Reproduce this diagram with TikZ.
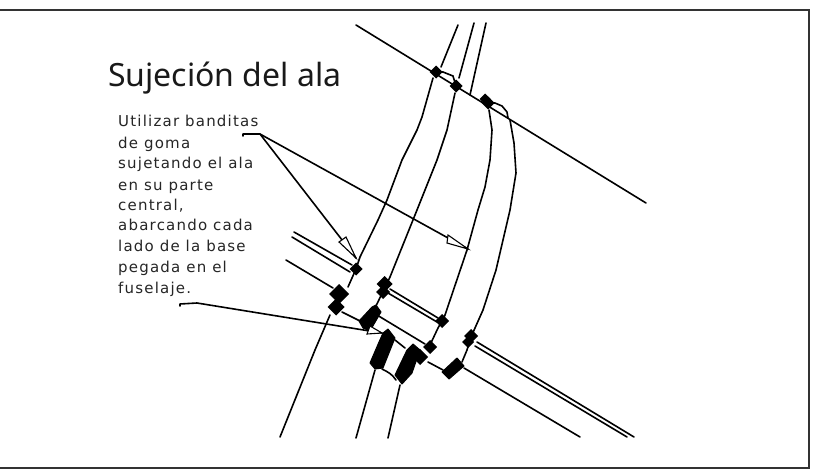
\documentclass[tikz,border=0pt]{standalone}
\usepackage{fontspec}
\setmainfont{DejaVu Sans}
\newfontfamily\titlefont{Noto Sans}
\newfontfamily\notefont[LetterSpace=8]{DejaVu Sans}
\tikzset{
  wire/.style={line width=1.6pt,line join=round,line cap=round},
  blob/.style={fill=black,draw=black,line width=1pt,line join=round},
  tiptri/.style={line width=1.1pt,fill=white,line join=miter},
  notetext/.style={anchor=base west,inner sep=0pt,font=\fontsize{15}{16}\notefont,text=black!85}
}
\newcommand{\dia}[3][6.5]{\fill[black] (#2,#3) +(-#1,0) -- +(0,-#1) -- +(#1,0) -- +(0,#1) -- cycle;}
\begin{document}
\begin{tikzpicture}[x=1pt,y=-1pt]
\useasboundingbox (0,0) rectangle (836,471);
\fill[white] (0,0) rectangle (836,471);
\draw[line width=2pt,black!80] (-3,10) -- (808.5,10) -- (808.5,468) -- (-3,468);
% title
\node[anchor=base west,inner sep=0pt,font=\fontsize{32}{36}\titlefont,text=black!90] (title) at (108,86) {Sujeción del ala};
% note
\node[notetext] (n1) at (118,126) {Utilizar banditas};
\node[notetext] (n2) at (118,148) {de goma};
\node[notetext] (n3) at (118,168) {sujetando el ala};
\node[notetext] (n4) at (118,190) {en su parte};
\node[notetext] (n5) at (118,210) {central,};
\node[notetext] (n6) at (118,230) {abarcando cada};
\node[notetext] (n7) at (118,251) {lado de la base};
\node[notetext] (n8) at (118,272) {pegada en el};
\node[notetext] (n9) at (118,293) {fuselaje.};
% top diagonal
\draw[wire] (356,25) -- (646,203);
% upper strands
\draw[wire] (458,25) -- (441,67);
\draw[wire] (474,23) -- (459,78);
\draw[wire] (486,23) -- (470,95);
% strand 1
\draw[wire] (433,78) -- (422,117) -- (417,130) -- (402,160) -- (387,200) -- (378,220) -- (360,257) -- (356,269) -- (348,287);
\draw[wire] (330,315) -- (315,350) -- (280,437);
% strand 2
\draw[wire] (455,93) -- (447,130) -- (437,160) -- (417,210) -- (390,277) -- (375,308);
% connecting tops
\draw[wire] (436,72) -- (443,72) -- (453,76) -- (456,86);
\draw[wire] (488,103) -- (495,103) -- (502,106) -- (507,112) -- (508,118);
% strands 3, 4
\draw[wire] (489,110) -- (492,130) -- (490,160) -- (485,187) -- (478,210) -- (467,250) -- (445,315) -- (442,321) -- (438,328) -- (430,345);
\draw[wire] (510,120) -- (514,143) -- (516,173) -- (510,210) -- (496,270) -- (483,310) -- (471,337) -- (467,350) -- (462,362);
% left stubs
\draw[wire] (294,232) -- (352,265);
\draw[wire] (292,237) -- (350,272);
\draw[wire] (286,260) -- (333,288);
% mid double
\draw[wire] (390,289) -- (438,318);
\draw[wire] (388,293) -- (437,322);
\draw[wire] (377,315) -- (425,344);
% lower connections
\draw[wire] (342,312) -- (362,322);
\draw[wire] (395,340) -- (405,348);
\draw[wire] (382,369) .. controls (388,372) and (392,374) .. (396,380);
\draw[wire] (428,362) -- (443,370);
% bottom lines
\draw[wire] (375,370) -- (356,438);
\draw[wire] (400,385) -- (388,438);
\draw[wire] (464,368) -- (580,437);
% right double
\draw[wire] (477,342) -- (634,437);
\draw[wire] (475,346) -- (627,437);
% clamps
\dia{436}{72}
\dia{456}{86}
\dia{488}{103}
\dia[5.5]{485}{99}
\dia{356}{269}
\dia[10]{339}{294}
\dia[8.5]{336}{307}
\dia[8]{384.5}{284}
\dia[7]{383}{292}
\dia[7]{442}{321}
\dia[7]{471}{336}
\dia[6]{468}{342}
\dia[7]{430}{347}
\dia[8]{420}{357}
\fill[blob] (372,307) -- (376,305) -- (381,312) -- (370,331) -- (363,328) -- (359,321) -- cycle;
\fill[blob] (383,333) -- (388,329) -- (395,338) -- (383,368) -- (375,369) -- (370,363) -- (379,342) -- cycle;
\fill[blob] (407,350) -- (413,344) -- (420,350) -- (412,373) -- (402,384) -- (395,375) -- cycle;
\fill[blob] (457,358) -- (464,366) -- (449,379) -- (442,372) -- cycle;
% pointers
\draw[wire] (243,136) -- (243,134) -- (260,134) -- (356,258);
\draw[wire] (260,134) -- (468,249);
\draw[wire] (180,306) -- (180,304) -- (197,303) -- (382,333);
\draw[tiptri] (356,258) -- (339,242) -- (346,237) -- cycle;
\draw[tiptri] (468,249) -- (447,243) -- (448,235) -- cycle;
\draw[tiptri] (382,333) -- (367,334) -- (370,326) -- cycle;
\end{tikzpicture}
\end{document}
